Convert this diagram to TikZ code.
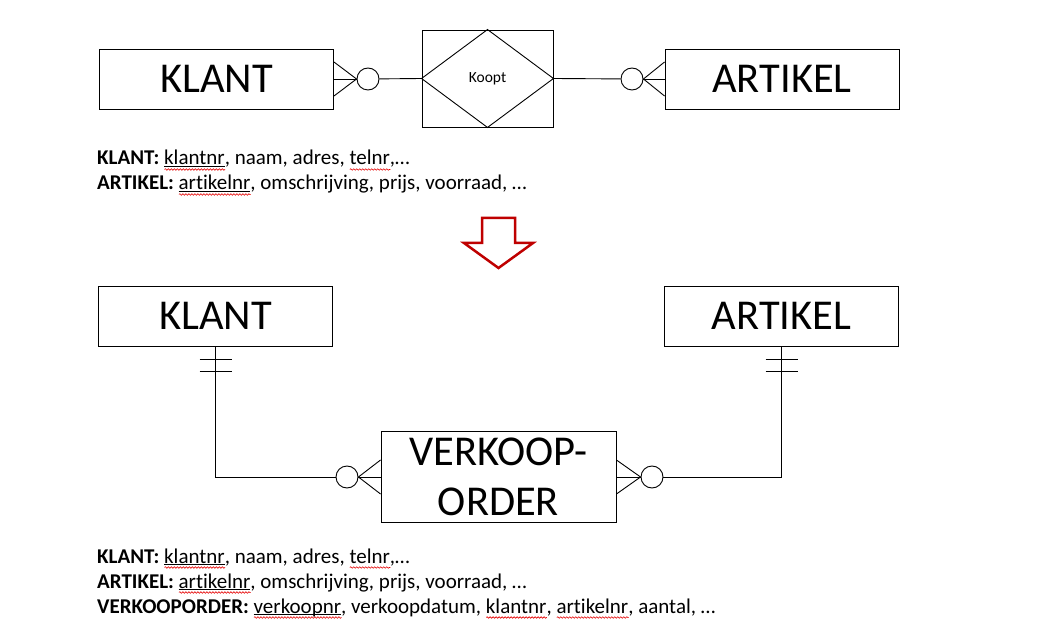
\documentclass[tikz,border=0pt]{standalone}
\usepackage{fontspec}
\setmainfont{Carlito}[Ligatures=NoCommon]
\usepackage{tikz}
\usetikzlibrary{decorations.pathmorphing}

\newsavebox{\wordbox}
\newlength{\wordlen}
\newcommand{\squig}{\tikz[baseline=0pt]\draw[red!90!black, line width=0.6pt, decorate, decoration={snake, amplitude=0.8pt, segment length=3pt}] (0pt,-4.5pt) -- (\wordlen,-4.5pt);}
\newcommand{\spell}[1]{\sbox{\wordbox}{#1}\setlength{\wordlen}{\wd\wordbox}\rlap{\squig}\usebox{\wordbox}}
\newcommand{\keyword}[1]{\sbox{\wordbox}{#1}\setlength{\wordlen}{\wd\wordbox}\rlap{\rule[-2pt]{\wordlen}{0.9pt}}\rlap{\squig}\usebox{\wordbox}}

\begin{document}
\begin{tikzpicture}[x=1pt, y=-1pt, line width=0.9pt,
  entity/.style={draw, rectangle, minimum width=234pt, minimum height=60pt, inner sep=0pt, font=\fontsize{42.5}{50}\selectfont},
  ring/.style={draw, circle, minimum size=22pt, inner sep=0pt},
  attr/.style={anchor=base west, inner sep=0pt, font=\fontsize{21}{25}\selectfont}]
\useasboundingbox (0,0) rectangle (1060,644);

\node[entity] (klant1) at (216.5,79) {KLANT};
\node[entity] (artikel1) at (782,79) {ARTIKEL};
\node[draw, minimum width=131pt, minimum height=97pt, font=\fontsize{15.5}{18}\selectfont] (koopt) at (487.5,78.5) {Koopt};
\draw (koopt.west) -- (koopt.north) -- (koopt.east) -- (koopt.south) -- cycle;

\node[ring] (ring1) at (368,79) {};
\node[ring] (ring2) at (632,79) {};
\foreach \s in {-17, 0, 17} {
    \draw ([yshift=\s pt]klant1.east) -- (ring1.west);
    \draw ([yshift=\s pt]artikel1.west) -- (ring2.east);
};
\draw (ring1) -- (koopt.west);
\draw (koopt.east) -- (ring2);

\node[attr] (attr1) at (97,165) {\textbf{KLANT:} \keyword{klantnr}, naam, adres, \spell{telnr},…};
\node[attr] (attr2) at (97,190) {\textbf{ARTIKEL:} \keyword{artikelnr}, omschrijving, prijs, voorraad, …};

\draw[draw=red!75!black, line width=2.5pt, fill=white, line join=miter]
    (482,218) -- (515,218) -- (515,243) -- (533,243) -- (498.5,268) -- (464,243) -- (482,243) -- cycle;

\node[entity] (klant2) at (215.5,316) {KLANT};
\node[entity] (artikel2) at (781.5,316) {ARTIKEL};
\node[entity, minimum width=235pt, minimum height=91pt, align=center] (order) at (498.5,477) {VERKOOP-\\ORDER};

\node[ring] (ring3) at (347,477) {};
\node[ring] (ring4) at (652,477) {};
\draw (klant2.south) |- (ring3);
\draw (artikel2.south) |- (ring4);
\foreach \s in {-17, 0, 17} {
    \draw ([yshift=\s pt]order.west) -- (ring3.east);
    \draw ([yshift=\s pt]order.east) -- (ring4.west);
};
\foreach \t in {13, 25} {
    \draw ([yshift=-\t pt, xshift=-16pt]klant2.south) -- ++(32,0);
    \draw ([yshift=-\t pt, xshift=-16pt]artikel2.south) -- ++(32,0);
};

\node[attr] (attr3) at (97,563) {\textbf{KLANT:} \keyword{klantnr}, naam, adres, \spell{telnr},…};
\node[attr] (attr4) at (97,588) {\textbf{ARTIKEL:} \keyword{artikelnr}, omschrijving, prijs, voorraad, …};
\node[attr] (attr5) at (97,613) {\textbf{VERKOOPORDER:} \keyword{verkoopnr}, verkoopdatum, \spell{klantnr}, \spell{artikelnr}, aantal, …};

\end{tikzpicture}
\end{document}
